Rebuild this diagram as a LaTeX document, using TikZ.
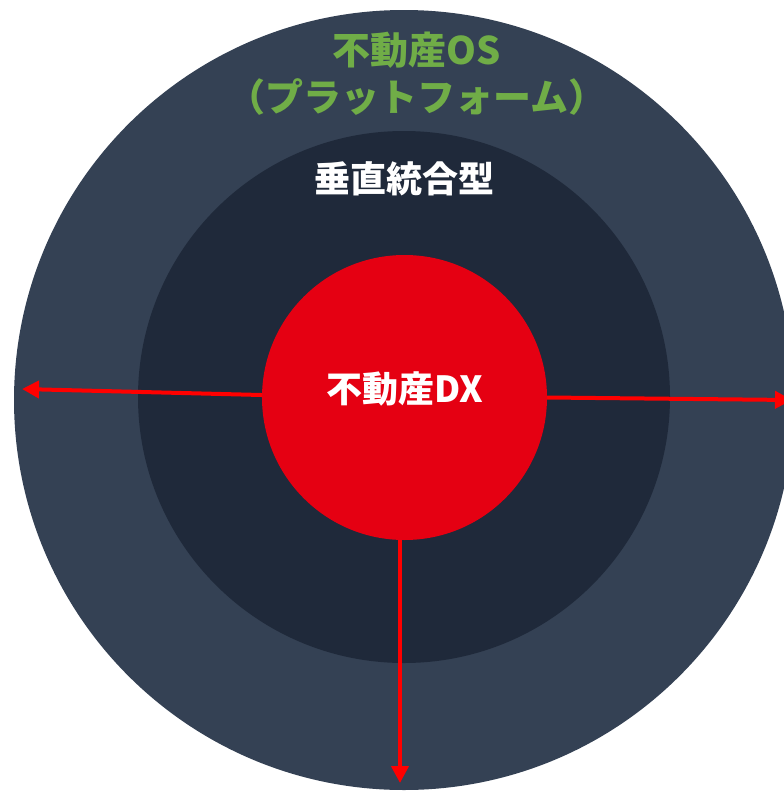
\documentclass[tikz,border=0pt]{standalone}
\usepackage{fontspec}
\newfontfamily\cjk{Noto Sans CJK JP}
\usetikzlibrary{arrows.meta}
\definecolor{outerc}{HTML}{344154}
\definecolor{innerc}{HTML}{1F293A}
\definecolor{dxred}{HTML}{E50012}
\definecolor{arrred}{HTML}{FF0000}
\definecolor{osgreen}{HTML}{70AD47}
\tikzset{
  ring/.style={circle, draw=none, inner sep=0pt},
  lbl/.style={font=\cjk\bfseries\fontsize{36}{47}\selectfont, align=center, inner sep=0pt},
  biglbl/.style={font=\cjk\bfseries\fontsize{38}{47}\selectfont, align=center, inner sep=0pt},
  flow/.style={draw=arrred, line width=4pt, -{Triangle[length=17pt,width=17pt]}}
}
\begin{document}
\begin{tikzpicture}[x=1pt,y=-1pt]
\useasboundingbox (0,0) rectangle (784,793);
\clip (0,0) rectangle (784,793);
\node[ring, fill=outerc, minimum size=780pt] (os) at (404,400) {};
\node[ring, fill=innerc, minimum size=532pt] (vert) at (404,397) {};
\node[ring, fill=dxred, minimum size=285pt] (dx) at (404.5,397.5) {};
\node[biglbl, text=osgreen] (ostitle) at (417,74) {不動産OS\\（プラットフォーム）};
\node[lbl, text=white] (vtitle) at (404.5,179) {垂直統合型};
\node[lbl, text=white] (dxtitle) at (405,389) {不動産DX};
\coordinate (lend) at (22,389);
\coordinate (rend) at (792,400);
\coordinate (bend) at (400,783);
\draw[flow] (dx.179) -- (lend);
\draw[flow] (dx.east) -- (rend);
\draw[flow] (dx.south -| bend) -- (bend);
\end{tikzpicture}
\end{document}
